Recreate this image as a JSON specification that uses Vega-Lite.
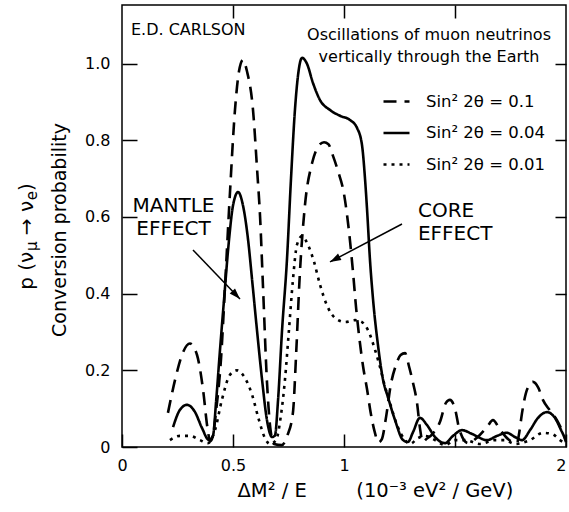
{
  "$schema": "https://vega.github.io/schema/vega-lite/v6.json",
  "autosize": {"type": "none"},
  "padding": {"left": 122, "top": 5, "right": 3, "bottom": 65},
  "width": 444,
  "height": 442,
  "background": "white",
  "config": {
    "view": {"stroke": "black", "strokeWidth": 1.5},
    "font": "DejaVu Sans",
    "axis": {"labelFont": "DejaVu Sans", "labelFontSize": 16, "labelColor": "black", "tickColor": "black", "tickWidth": 1.5, "domain": false, "grid": false, "labelFlush": false, "titleFont": "DejaVu Sans", "titleColor": "black", "titleFontWeight": "normal"},
    "text": {"font": "DejaVu Sans", "color": "black"}
  },
  "datasets": {
    "curves": [
      {"series":"Sin² 2θ = 0.1","dm2E":0.207,"prob":0.089},
      {"series":"Sin² 2θ = 0.1","dm2E":0.239,"prob":0.175},
      {"series":"Sin² 2θ = 0.1","dm2E":0.27,"prob":0.24},
      {"series":"Sin² 2θ = 0.1","dm2E":0.306,"prob":0.27},
      {"series":"Sin² 2θ = 0.1","dm2E":0.338,"prob":0.24},
      {"series":"Sin² 2θ = 0.1","dm2E":0.365,"prob":0.15},
      {"series":"Sin² 2θ = 0.1","dm2E":0.385,"prob":0.05},
      {"series":"Sin² 2θ = 0.1","dm2E":0.397,"prob":0.015},
      {"series":"Sin² 2θ = 0.1","dm2E":0.41,"prob":0.03},
      {"series":"Sin² 2θ = 0.1","dm2E":0.423,"prob":0.09},
      {"series":"Sin² 2θ = 0.1","dm2E":0.446,"prob":0.23},
      {"series":"Sin² 2θ = 0.1","dm2E":0.465,"prob":0.43},
      {"series":"Sin² 2θ = 0.1","dm2E":0.486,"prob":0.66},
      {"series":"Sin² 2θ = 0.1","dm2E":0.509,"prob":0.88},
      {"series":"Sin² 2θ = 0.1","dm2E":0.527,"prob":0.98},
      {"series":"Sin² 2θ = 0.1","dm2E":0.545,"prob":1.01},
      {"series":"Sin² 2θ = 0.1","dm2E":0.563,"prob":0.98},
      {"series":"Sin² 2θ = 0.1","dm2E":0.59,"prob":0.88},
      {"series":"Sin² 2θ = 0.1","dm2E":0.609,"prob":0.72},
      {"series":"Sin² 2θ = 0.1","dm2E":0.622,"prob":0.6},
      {"series":"Sin² 2θ = 0.1","dm2E":0.635,"prob":0.42},
      {"series":"Sin² 2θ = 0.1","dm2E":0.653,"prob":0.17},
      {"series":"Sin² 2θ = 0.1","dm2E":0.668,"prob":0.05},
      {"series":"Sin² 2θ = 0.1","dm2E":0.685,"prob":0.008},
      {"series":"Sin² 2θ = 0.1","dm2E":0.72,"prob":0.005},
      {"series":"Sin² 2θ = 0.1","dm2E":0.745,"prob":0.03},
      {"series":"Sin² 2θ = 0.1","dm2E":0.77,"prob":0.09},
      {"series":"Sin² 2θ = 0.1","dm2E":0.785,"prob":0.25},
      {"series":"Sin² 2θ = 0.1","dm2E":0.80,"prob":0.44},
      {"series":"Sin² 2θ = 0.1","dm2E":0.824,"prob":0.63},
      {"series":"Sin² 2θ = 0.1","dm2E":0.856,"prob":0.74},
      {"series":"Sin² 2θ = 0.1","dm2E":0.885,"prob":0.785},
      {"series":"Sin² 2θ = 0.1","dm2E":0.91,"prob":0.795},
      {"series":"Sin² 2θ = 0.1","dm2E":0.93,"prob":0.79},
      {"series":"Sin² 2θ = 0.1","dm2E":0.95,"prob":0.76},
      {"series":"Sin² 2θ = 0.1","dm2E":0.973,"prob":0.72},
      {"series":"Sin² 2θ = 0.1","dm2E":1.0,"prob":0.66},
      {"series":"Sin² 2θ = 0.1","dm2E":1.023,"prob":0.56},
      {"series":"Sin² 2θ = 0.1","dm2E":1.04,"prob":0.46},
      {"series":"Sin² 2θ = 0.1","dm2E":1.055,"prob":0.36},
      {"series":"Sin² 2θ = 0.1","dm2E":1.07,"prob":0.28},
      {"series":"Sin² 2θ = 0.1","dm2E":1.086,"prob":0.21},
      {"series":"Sin² 2θ = 0.1","dm2E":1.104,"prob":0.15},
      {"series":"Sin² 2θ = 0.1","dm2E":1.12,"prob":0.09},
      {"series":"Sin² 2θ = 0.1","dm2E":1.138,"prob":0.04},
      {"series":"Sin² 2θ = 0.1","dm2E":1.155,"prob":0.012},
      {"series":"Sin² 2θ = 0.1","dm2E":1.17,"prob":0.02},
      {"series":"Sin² 2θ = 0.1","dm2E":1.19,"prob":0.08},
      {"series":"Sin² 2θ = 0.1","dm2E":1.21,"prob":0.16},
      {"series":"Sin² 2θ = 0.1","dm2E":1.235,"prob":0.215},
      {"series":"Sin² 2θ = 0.1","dm2E":1.255,"prob":0.24},
      {"series":"Sin² 2θ = 0.1","dm2E":1.275,"prob":0.245},
      {"series":"Sin² 2θ = 0.1","dm2E":1.293,"prob":0.21},
      {"series":"Sin² 2θ = 0.1","dm2E":1.311,"prob":0.167},
      {"series":"Sin² 2θ = 0.1","dm2E":1.329,"prob":0.115},
      {"series":"Sin² 2θ = 0.1","dm2E":1.342,"prob":0.05},
      {"series":"Sin² 2θ = 0.1","dm2E":1.355,"prob":0.013},
      {"series":"Sin² 2θ = 0.1","dm2E":1.37,"prob":0.02},
      {"series":"Sin² 2θ = 0.1","dm2E":1.40,"prob":0.035},
      {"series":"Sin² 2θ = 0.1","dm2E":1.432,"prob":0.065},
      {"series":"Sin² 2θ = 0.1","dm2E":1.459,"prob":0.115},
      {"series":"Sin² 2θ = 0.1","dm2E":1.477,"prob":0.123},
      {"series":"Sin² 2θ = 0.1","dm2E":1.5,"prob":0.1},
      {"series":"Sin² 2θ = 0.1","dm2E":1.52,"prob":0.045},
      {"series":"Sin² 2θ = 0.1","dm2E":1.559,"prob":0.01},
      {"series":"Sin² 2θ = 0.1","dm2E":1.6,"prob":0.025},
      {"series":"Sin² 2θ = 0.1","dm2E":1.644,"prob":0.052},
      {"series":"Sin² 2θ = 0.1","dm2E":1.671,"prob":0.07},
      {"series":"Sin² 2θ = 0.1","dm2E":1.703,"prob":0.045},
      {"series":"Sin² 2θ = 0.1","dm2E":1.74,"prob":0.02},
      {"series":"Sin² 2θ = 0.1","dm2E":1.779,"prob":0.01},
      {"series":"Sin² 2θ = 0.1","dm2E":1.79,"prob":0.04},
      {"series":"Sin² 2θ = 0.1","dm2E":1.802,"prob":0.089},
      {"series":"Sin² 2θ = 0.1","dm2E":1.824,"prob":0.149},
      {"series":"Sin² 2θ = 0.1","dm2E":1.851,"prob":0.17},
      {"series":"Sin² 2θ = 0.1","dm2E":1.875,"prob":0.155},
      {"series":"Sin² 2θ = 0.1","dm2E":1.896,"prob":0.123},
      {"series":"Sin² 2θ = 0.1","dm2E":1.928,"prob":0.095},
      {"series":"Sin² 2θ = 0.1","dm2E":1.959,"prob":0.07},
      {"series":"Sin² 2θ = 0.1","dm2E":1.986,"prob":0.037},
      {"series":"Sin² 2θ = 0.1","dm2E":2.0,"prob":0.013},

      {"series":"Sin² 2θ = 0.04","dm2E":0.23,"prob":0.052},
      {"series":"Sin² 2θ = 0.04","dm2E":0.261,"prob":0.097},
      {"series":"Sin² 2θ = 0.04","dm2E":0.293,"prob":0.11},
      {"series":"Sin² 2θ = 0.04","dm2E":0.329,"prob":0.091},
      {"series":"Sin² 2θ = 0.04","dm2E":0.36,"prob":0.05},
      {"series":"Sin² 2θ = 0.04","dm2E":0.392,"prob":0.018},
      {"series":"Sin² 2θ = 0.04","dm2E":0.41,"prob":0.03},
      {"series":"Sin² 2θ = 0.04","dm2E":0.424,"prob":0.12},
      {"series":"Sin² 2θ = 0.04","dm2E":0.441,"prob":0.25},
      {"series":"Sin² 2θ = 0.04","dm2E":0.459,"prob":0.38},
      {"series":"Sin² 2θ = 0.04","dm2E":0.482,"prob":0.54},
      {"series":"Sin² 2θ = 0.04","dm2E":0.5,"prob":0.63},
      {"series":"Sin² 2θ = 0.04","dm2E":0.523,"prob":0.665},
      {"series":"Sin² 2θ = 0.04","dm2E":0.545,"prob":0.63},
      {"series":"Sin² 2θ = 0.04","dm2E":0.568,"prob":0.54},
      {"series":"Sin² 2θ = 0.04","dm2E":0.586,"prob":0.436},
      {"series":"Sin² 2θ = 0.04","dm2E":0.608,"prob":0.305},
      {"series":"Sin² 2θ = 0.04","dm2E":0.631,"prob":0.175},
      {"series":"Sin² 2θ = 0.04","dm2E":0.653,"prob":0.07},
      {"series":"Sin² 2θ = 0.04","dm2E":0.676,"prob":0.026},
      {"series":"Sin² 2θ = 0.04","dm2E":0.689,"prob":0.03},
      {"series":"Sin² 2θ = 0.04","dm2E":0.703,"prob":0.123},
      {"series":"Sin² 2θ = 0.04","dm2E":0.721,"prob":0.305},
      {"series":"Sin² 2θ = 0.04","dm2E":0.743,"prob":0.488},
      {"series":"Sin² 2θ = 0.04","dm2E":0.761,"prob":0.697},
      {"series":"Sin² 2θ = 0.04","dm2E":0.779,"prob":0.879},
      {"series":"Sin² 2θ = 0.04","dm2E":0.793,"prob":0.97},
      {"series":"Sin² 2θ = 0.04","dm2E":0.811,"prob":1.015},
      {"series":"Sin² 2θ = 0.04","dm2E":0.833,"prob":1.0},
      {"series":"Sin² 2θ = 0.04","dm2E":0.86,"prob":0.95},
      {"series":"Sin² 2θ = 0.04","dm2E":0.892,"prob":0.905},
      {"series":"Sin² 2θ = 0.04","dm2E":0.937,"prob":0.879},
      {"series":"Sin² 2θ = 0.04","dm2E":0.982,"prob":0.864},
      {"series":"Sin² 2θ = 0.04","dm2E":1.027,"prob":0.853},
      {"series":"Sin² 2θ = 0.04","dm2E":1.059,"prob":0.832},
      {"series":"Sin² 2θ = 0.04","dm2E":1.081,"prob":0.788},
      {"series":"Sin² 2θ = 0.04","dm2E":1.095,"prob":0.697},
      {"series":"Sin² 2θ = 0.04","dm2E":1.104,"prob":0.618},
      {"series":"Sin² 2θ = 0.04","dm2E":1.117,"prob":0.488},
      {"series":"Sin² 2θ = 0.04","dm2E":1.131,"prob":0.384},
      {"series":"Sin² 2θ = 0.04","dm2E":1.153,"prob":0.266},
      {"series":"Sin² 2θ = 0.04","dm2E":1.176,"prob":0.175},
      {"series":"Sin² 2θ = 0.04","dm2E":1.198,"prob":0.13},
      {"series":"Sin² 2θ = 0.04","dm2E":1.23,"prob":0.07},
      {"series":"Sin² 2θ = 0.04","dm2E":1.266,"prob":0.018},
      {"series":"Sin² 2θ = 0.04","dm2E":1.288,"prob":0.013},
      {"series":"Sin² 2θ = 0.04","dm2E":1.311,"prob":0.039},
      {"series":"Sin² 2θ = 0.04","dm2E":1.342,"prob":0.076},
      {"series":"Sin² 2θ = 0.04","dm2E":1.374,"prob":0.057},
      {"series":"Sin² 2θ = 0.04","dm2E":1.41,"prob":0.026},
      {"series":"Sin² 2θ = 0.04","dm2E":1.455,"prob":0.01},
      {"series":"Sin² 2θ = 0.04","dm2E":1.491,"prob":0.029},
      {"series":"Sin² 2θ = 0.04","dm2E":1.532,"prob":0.044},
      {"series":"Sin² 2θ = 0.04","dm2E":1.577,"prob":0.034},
      {"series":"Sin² 2θ = 0.04","dm2E":1.644,"prob":0.018},
      {"series":"Sin² 2θ = 0.04","dm2E":1.689,"prob":0.029},
      {"series":"Sin² 2θ = 0.04","dm2E":1.734,"prob":0.037},
      {"series":"Sin² 2θ = 0.04","dm2E":1.77,"prob":0.026},
      {"series":"Sin² 2θ = 0.04","dm2E":1.802,"prob":0.018},
      {"series":"Sin² 2θ = 0.04","dm2E":1.838,"prob":0.044},
      {"series":"Sin² 2θ = 0.04","dm2E":1.874,"prob":0.076},
      {"series":"Sin² 2θ = 0.04","dm2E":1.914,"prob":0.091},
      {"series":"Sin² 2θ = 0.04","dm2E":1.95,"prob":0.076},
      {"series":"Sin² 2θ = 0.04","dm2E":1.982,"prob":0.039},
      {"series":"Sin² 2θ = 0.04","dm2E":2.0,"prob":0.018},

      {"series":"Sin² 2θ = 0.01","dm2E":0.216,"prob":0.018},
      {"series":"Sin² 2θ = 0.01","dm2E":0.261,"prob":0.029},
      {"series":"Sin² 2θ = 0.01","dm2E":0.306,"prob":0.029},
      {"series":"Sin² 2θ = 0.01","dm2E":0.351,"prob":0.018},
      {"series":"Sin² 2θ = 0.01","dm2E":0.387,"prob":0.01},
      {"series":"Sin² 2θ = 0.01","dm2E":0.419,"prob":0.044},
      {"series":"Sin² 2θ = 0.01","dm2E":0.45,"prob":0.123},
      {"series":"Sin² 2θ = 0.01","dm2E":0.486,"prob":0.188},
      {"series":"Sin² 2θ = 0.01","dm2E":0.518,"prob":0.2},
      {"series":"Sin² 2θ = 0.01","dm2E":0.554,"prob":0.18},
      {"series":"Sin² 2θ = 0.01","dm2E":0.586,"prob":0.136},
      {"series":"Sin² 2θ = 0.01","dm2E":0.617,"prob":0.07},
      {"series":"Sin² 2θ = 0.01","dm2E":0.644,"prob":0.023},
      {"series":"Sin² 2θ = 0.01","dm2E":0.667,"prob":0.008},
      {"series":"Sin² 2θ = 0.01","dm2E":0.694,"prob":0.018},
      {"series":"Sin² 2θ = 0.01","dm2E":0.716,"prob":0.083},
      {"series":"Sin² 2θ = 0.01","dm2E":0.734,"prob":0.175},
      {"series":"Sin² 2θ = 0.01","dm2E":0.752,"prob":0.305},
      {"series":"Sin² 2θ = 0.01","dm2E":0.77,"prob":0.436},
      {"series":"Sin² 2θ = 0.01","dm2E":0.788,"prob":0.527},
      {"series":"Sin² 2θ = 0.01","dm2E":0.811,"prob":0.55},
      {"series":"Sin² 2θ = 0.01","dm2E":0.838,"prob":0.527},
      {"series":"Sin² 2θ = 0.01","dm2E":0.865,"prob":0.483},
      {"series":"Sin² 2θ = 0.01","dm2E":0.892,"prob":0.423},
      {"series":"Sin² 2θ = 0.01","dm2E":0.923,"prob":0.37},
      {"series":"Sin² 2θ = 0.01","dm2E":0.959,"prob":0.337},
      {"series":"Sin² 2θ = 0.01","dm2E":1.005,"prob":0.326},
      {"series":"Sin² 2θ = 0.01","dm2E":1.05,"prob":0.331},
      {"series":"Sin² 2θ = 0.01","dm2E":1.081,"prob":0.326},
      {"series":"Sin² 2θ = 0.01","dm2E":1.108,"prob":0.305},
      {"series":"Sin² 2θ = 0.01","dm2E":1.14,"prob":0.253},
      {"series":"Sin² 2θ = 0.01","dm2E":1.162,"prob":0.209},
      {"series":"Sin² 2θ = 0.01","dm2E":1.185,"prob":0.157},
      {"series":"Sin² 2θ = 0.01","dm2E":1.207,"prob":0.115},
      {"series":"Sin² 2θ = 0.01","dm2E":1.239,"prob":0.057},
      {"series":"Sin² 2θ = 0.01","dm2E":1.275,"prob":0.018},
      {"series":"Sin² 2θ = 0.01","dm2E":1.297,"prob":0.008},
      {"series":"Sin² 2θ = 0.01","dm2E":1.333,"prob":0.023},
      {"series":"Sin² 2θ = 0.01","dm2E":1.365,"prob":0.029},
      {"series":"Sin² 2θ = 0.01","dm2E":1.41,"prob":0.018},
      {"series":"Sin² 2θ = 0.01","dm2E":1.455,"prob":0.005},
      {"series":"Sin² 2θ = 0.01","dm2E":1.5,"prob":0.018},
      {"series":"Sin² 2θ = 0.01","dm2E":1.545,"prob":0.018},
      {"series":"Sin² 2θ = 0.01","dm2E":1.613,"prob":0.008},
      {"series":"Sin² 2θ = 0.01","dm2E":1.68,"prob":0.018},
      {"series":"Sin² 2θ = 0.01","dm2E":1.725,"prob":0.018},
      {"series":"Sin² 2θ = 0.01","dm2E":1.77,"prob":0.008},
      {"series":"Sin² 2θ = 0.01","dm2E":1.838,"prob":0.018},
      {"series":"Sin² 2θ = 0.01","dm2E":1.896,"prob":0.037},
      {"series":"Sin² 2θ = 0.01","dm2E":1.937,"prob":0.034},
      {"series":"Sin² 2θ = 0.01","dm2E":1.973,"prob":0.018},
      {"series":"Sin² 2θ = 0.01","dm2E":2.0,"prob":0.008}
    ]
  },
  "resolve": {"axis": {"x": "independent", "y": "independent"}},
  "layer": [
    {
      "data": {"name": "curves"},
      "mark": {"type": "line", "interpolate": "monotone", "strokeWidth": 2.6, "color": "black"},
      "encoding": {
        "x": {
          "field": "dm2E", "type": "quantitative",
          "scale": {"domain": [0, 2], "nice": false, "zero": false},
          "axis": {
            "orient": "bottom", "values": [0, 0.5, 1, 1.5, 2], "tickSize": -13, "labelPadding": 23,
            "labelExpr": "datum.value == 1.5 ? '' : format(datum.value, '~g')",
            "labelAlign": {"expr": "datum.value == 2 ? 'right' : 'center'"},
            "title": "ΔM² / E\u00a0\u00a0\u00a0\u00a0\u00a0\u00a0\u00a0\u00a0(10⁻³ eV² / GeV)",
            "titleFontSize": 19.5, "titleX": 115, "titleY": 49, "titleAlign": "left", "titleBaseline": "alphabetic"
          }
        },
        "y": {
          "field": "prob", "type": "quantitative",
          "scale": {"domain": [0, 1.153], "nice": false},
          "axis": {
            "orient": "left", "values": [0, 0.2, 0.4, 0.6, 0.8, 1.0], "tickSize": -15, "labelPadding": 27,
            "labelExpr": "datum.value == 0 ? '0' : format(datum.value, '.1f')",
            "title": null
          }
        },
        "strokeDash": {
          "field": "series", "type": "nominal",
          "scale": {"domain": ["Sin² 2θ = 0.1", "Sin² 2θ = 0.04", "Sin² 2θ = 0.01"], "range": [[13, 8], [1, 0], [3, 5]]},
          "legend": {
            "title": null, "orient": "none", "legendX": 260, "legendY": 82, "padding": 0,
            "symbolType": "stroke", "symbolSize": 676, "symbolStrokeWidth": 2.5, "symbolStrokeColor": "black",
            "labelFont": "DejaVu Sans", "labelFontSize": 16.5, "labelColor": "black", "labelOffset": 15, "rowPadding": 8.5
          }
        }
      }
    },
    {
      "data": {"name": "curves"},
      "mark": {"type": "point", "opacity": 0},
      "encoding": {
        "x": {"field": "dm2E", "type": "quantitative", "scale": {"domain": [0, 2], "nice": false, "zero": false},
              "axis": {"orient": "top", "values": [0.5, 1, 1.5], "labels": false, "tickSize": -13, "title": null}},
        "y": {"field": "prob", "type": "quantitative", "scale": {"domain": [0, 1.153], "nice": false},
              "axis": {"orient": "right", "values": [0.2, 0.4, 0.6, 0.8, 1.0], "labels": false, "tickSize": -11, "title": null}}
      }
    },
    {
      "data": {"values": [{}]},
      "mark": {"type": "rule", "strokeWidth": 1.5, "color": "black"},
      "encoding": {
        "x": {"datum": 0.3198, "type": "quantitative", "axis": null},
        "y": {"datum": 0.514, "type": "quantitative", "axis": null},
        "x2": {"datum": 0.5315},
        "y2": {"datum": 0.386}
      }
    },
    {
      "data": {"values": [{}]},
      "mark": {"type": "rule", "strokeWidth": 1.5, "color": "black"},
      "encoding": {
        "x": {"datum": 1.2613, "type": "quantitative", "axis": null},
        "y": {"datum": 0.5818, "type": "quantitative", "axis": null},
        "x2": {"datum": 0.9369},
        "y2": {"datum": 0.4827}
      }
    },
    {
      "data": {"values": [{}]},
      "mark": {"type": "point", "shape": "M0,0L-0.6,1.8L0.6,1.8Z", "size": 150, "angle": 136.2, "filled": true, "color": "black", "opacity": 1, "strokeWidth": 0},
      "encoding": {
        "x": {"datum": 0.5315, "type": "quantitative", "axis": null},
        "y": {"datum": 0.386, "type": "quantitative", "axis": null}
      }
    },
    {
      "data": {"values": [{}]},
      "mark": {"type": "point", "shape": "M0,0L-0.6,1.8L0.6,1.8Z", "size": 150, "angle": 242.2, "filled": true, "color": "black", "opacity": 1, "strokeWidth": 0},
      "encoding": {
        "x": {"datum": 0.9369, "type": "quantitative", "axis": null},
        "y": {"datum": 0.4827, "type": "quantitative", "axis": null}
      }
    },
    {
      "data": {"values": [{}]},
      "mark": {"type": "text", "text": "E.D. CARLSON", "align": "left", "baseline": "alphabetic", "fontSize": 16},
      "encoding": {
        "x": {"datum": 0.0405, "type": "quantitative", "axis": null},
        "y": {"datum": 1.075, "type": "quantitative", "axis": null}
      }
    },
    {
      "data": {"values": [{}]},
      "mark": {"type": "text", "text": ["Oscillations of muon neutrinos", "vertically through the Earth"], "lineHeight": 22, "align": "center", "baseline": "alphabetic", "fontSize": 16},
      "encoding": {
        "x": {"datum": 1.383, "type": "quantitative", "axis": null},
        "y": {"datum": 1.062, "type": "quantitative", "axis": null}
      }
    },
    {
      "data": {"values": [{}]},
      "mark": {"type": "text", "text": ["MANTLE", "EFFECT"], "lineHeight": 23, "align": "center", "baseline": "alphabetic", "fontSize": 20},
      "encoding": {
        "x": {"datum": 0.232, "type": "quantitative", "axis": null},
        "y": {"datum": 0.613, "type": "quantitative", "axis": null}
      }
    },
    {
      "data": {"values": [{}]},
      "mark": {"type": "text", "text": ["CORE", "EFFECT"], "lineHeight": 23, "align": "left", "baseline": "alphabetic", "fontSize": 20},
      "encoding": {
        "x": {"datum": 1.333, "type": "quantitative", "axis": null},
        "y": {"datum": 0.60, "type": "quantitative", "axis": null}
      }
    },
    {
      "data": {"values": [{}]},
      "mark": {"type": "text", "text": "p (ν", "angle": 270, "align": "left", "baseline": "alphabetic", "fontSize": 20, "clip": false},
      "encoding": {
        "x": {"datum": -0.401, "type": "quantitative", "axis": null},
        "y": {"datum": 0.41, "type": "quantitative", "axis": null}
      }
    },
    {
      "data": {"values": [{}]},
      "mark": {"type": "text", "text": "μ", "angle": 270, "align": "left", "baseline": "alphabetic", "fontSize": 15, "clip": false},
      "encoding": {
        "x": {"datum": -0.3829, "type": "quantitative", "axis": null},
        "y": {"datum": 0.511, "type": "quantitative", "axis": null}
      }
    },
    {
      "data": {"values": [{}]},
      "mark": {"type": "text", "text": "→ ν", "angle": 270, "align": "left", "baseline": "alphabetic", "fontSize": 20, "clip": false},
      "encoding": {
        "x": {"datum": -0.401, "type": "quantitative", "axis": null},
        "y": {"datum": 0.5524, "type": "quantitative", "axis": null}
      }
    },
    {
      "data": {"values": [{}]},
      "mark": {"type": "text", "text": "e", "angle": 270, "align": "left", "baseline": "alphabetic", "fontSize": 15, "clip": false},
      "encoding": {
        "x": {"datum": -0.3829, "type": "quantitative", "axis": null},
        "y": {"datum": 0.6438, "type": "quantitative", "axis": null}
      }
    },
    {
      "data": {"values": [{}]},
      "mark": {"type": "text", "text": ")", "angle": 270, "align": "left", "baseline": "alphabetic", "fontSize": 20, "clip": false},
      "encoding": {
        "x": {"datum": -0.401, "type": "quantitative", "axis": null},
        "y": {"datum": 0.6678, "type": "quantitative", "axis": null}
      }
    },
    {
      "data": {"values": [{}]},
      "mark": {"type": "text", "text": "Conversion probability", "angle": 270, "align": "left", "baseline": "alphabetic", "fontSize": 19, "clip": false},
      "encoding": {
        "x": {"datum": -0.252, "type": "quantitative", "axis": null},
        "y": {"datum": 0.287, "type": "quantitative", "axis": null}
      }
    }
  ]
}
